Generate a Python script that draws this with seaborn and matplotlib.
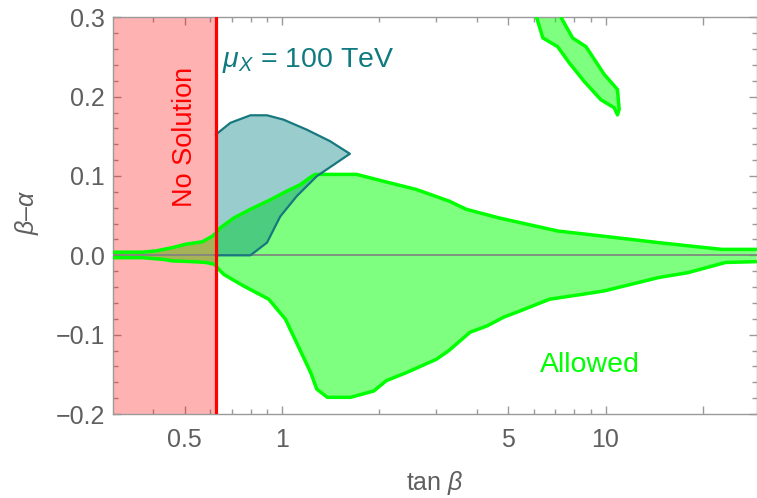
import numpy as np
import pandas as pd
import matplotlib
matplotlib.use("Agg")
import matplotlib.pyplot as plt
import seaborn as sns

# ---------------- data ----------------
upper_x = [0.30, 0.37, 0.407, 0.458, 0.503, 0.566, 0.608, 0.623, 0.645, 0.709, 0.798, 0.827,
           0.92, 1.035, 1.138, 1.22, 1.266, 1.70, 2.05, 2.60, 3.30, 3.71, 4.70, 7.13, 9.9,
           14.6, 18.0, 22.9, 29.3]
upper_y = [0.004, 0.004, 0.0055, 0.0097, 0.014, 0.017, 0.024, 0.028, 0.0348, 0.047, 0.058, 0.061,
           0.070, 0.081, 0.089, 0.098, 0.102, 0.102, 0.0935, 0.083, 0.068, 0.058, 0.047, 0.0306, 0.024,
           0.016, 0.012, 0.0075, 0.0075]

lower_x = [0.30, 0.37, 0.426, 0.458, 0.528, 0.58, 0.614, 0.623, 0.637, 0.66, 0.76, 0.909, 1.024,
           1.12, 1.225, 1.28, 1.38, 1.627, 1.92, 2.10, 2.43, 3.0, 3.28, 3.81, 4.30, 4.84, 5.45,
           6.14, 6.72, 8.53, 9.9, 14.6, 18.0, 23.5, 29.3]
lower_y = [-0.003, -0.003, -0.005, -0.007, -0.008, -0.009, -0.011, -0.013, -0.0176, -0.024, -0.0386,
           -0.0553, -0.0805, -0.114, -0.1476, -0.1686, -0.179, -0.179, -0.171, -0.158, -0.1476, -0.131,
           -0.120, -0.097, -0.089, -0.078, -0.070, -0.0616, -0.0553, -0.049, -0.0449, -0.028, -0.0218,
           -0.009, -0.008]

teal_x = [0.623, 0.692, 0.798, 0.898, 1.01, 1.19, 1.408, 1.62, 1.28, 1.11, 0.987, 0.898, 0.798, 0.623]
teal_y = [0.152, 0.167, 0.1765, 0.1765, 0.171, 0.1585, 0.1438, 0.128, 0.0997, 0.0746, 0.049, 0.016, 0.0, 0.0]

blob_x = [6.07, 6.40, 7.11, 7.73, 8.60, 9.68, 10.64, 10.89, 11.02, 10.89, 9.91, 8.70, 7.91, 7.17]
blob_y = [0.305, 0.274, 0.263, 0.2424, 0.219, 0.196, 0.186, 0.177, 0.184, 0.209, 0.228, 0.263, 0.274, 0.305]

no_solution_x = 0.623
x_major = [0.5, 1, 5, 10, 20]
x_major_labels = ["0.5", "1", "5", "10", ""]
x_minor = [0.4, 0.6, 0.7, 0.8, 0.9, 2, 3, 4, 6, 7, 8, 9]
y_major = [-0.2, -0.1, 0.0, 0.1, 0.2, 0.3]
y_major_labels = ["\u22120.2", "\u22120.1", "0.0", "0.1", "0.2", "0.3"]
y_minor = [-0.18, -0.16, -0.14, -0.12, -0.08, -0.06, -0.04, -0.02,
           0.02, 0.04, 0.06, 0.08, 0.12, 0.14, 0.16, 0.18, 0.22, 0.24, 0.26, 0.28]

# ---------------- style ----------------
sns.set_theme(style="ticks")
plt.rcParams["font.family"] = ["Liberation Sans", "DejaVu Sans"]
plt.rcParams["mathtext.fontset"] = "custom"
plt.rcParams["mathtext.rm"] = "Liberation Sans"
plt.rcParams["mathtext.it"] = "Liberation Sans:italic"

FRAME = "#9a9a9a"
LABEL = "#5f5f5f"
GREEN = "#00ff00"
TEAL_EDGE = "#17787f"
TEAL_TEXT = "#0f7a80"

fig = plt.figure(figsize=(7.57, 4.98), dpi=100)
ax = fig.add_axes([113 / 757, 84 / 498, 643.5 / 757, 396.7 / 498])
ax.set_xscale("log")
ax.set_xlim(0.3, 29.3)
ax.set_ylim(-0.2, 0.3)

# green allowed region
poly_x = upper_x + lower_x[::-1]
poly_y = upper_y + lower_y[::-1]
ax.fill(poly_x, poly_y, color=GREEN, alpha=0.5, lw=0, zorder=1)
ax.fill(blob_x, blob_y, color=GREEN, alpha=0.5, lw=0, zorder=1)

# no-solution region
ax.axvspan(0.3, no_solution_x, color="red", alpha=0.3, lw=0, zorder=2)

# teal region fill
ax.fill(teal_x, teal_y, color=(0, 0.5, 0.5), alpha=0.4, lw=0, zorder=2.5)

# zero line
ax.axhline(0, color="#808080", lw=1.2, zorder=2.8)

# green boundaries via seaborn
df_u = pd.DataFrame({"x": upper_x, "y": upper_y})
df_l = pd.DataFrame({"x": lower_x, "y": lower_y})
df_b = pd.DataFrame({"x": blob_x + blob_x[:1], "y": blob_y + blob_y[:1]})
for d in (df_u, df_l, df_b):
    sns.lineplot(data=d, x="x", y="y", sort=False, estimator=None, color=GREEN,
                 lw=2.5, ax=ax, zorder=3)

# teal outline
df_t = pd.DataFrame({"x": teal_x, "y": teal_y})
sns.lineplot(data=df_t, x="x", y="y", sort=False, estimator=None, color=TEAL_EDGE,
             lw=1.6, ax=ax, zorder=4)

# red boundary line
ax.axvline(no_solution_x, color="red", lw=2.3, zorder=5)

# texts
ax.text(0.5, 0.149, "No Solution", rotation=90, color="red", fontsize=19.5,
        ha="center", va="center", zorder=6)
ax.text(0.654, 0.246, r"$\mu_X$ = 100 TeV", color=TEAL_TEXT, fontsize=20.5,
        ha="left", va="center", zorder=6)
ax.text(8.97, -0.1385, "Allowed", color=GREEN, fontsize=20.5,
        ha="center", va="center", zorder=6)

# ticks
ax.set_xticks(x_major)
ax.set_xticklabels(x_major_labels)
ax.set_xticks(x_minor, minor=True)
ax.set_xticklabels([], minor=True)
ax.set_yticks(y_major)
ax.set_yticklabels(y_major_labels)
ax.set_yticks(y_minor, minor=True)
ax.tick_params(which="both", direction="in", top=True, right=True, color=FRAME,
               labelcolor=LABEL, labelsize=18, width=1.0)
ax.tick_params(axis="x", which="major", length=6, pad=10)
ax.tick_params(axis="y", which="major", length=6, pad=6)
ax.tick_params(which="minor", length=3.5)
for s in ax.spines.values():
    s.set_color(FRAME)
    s.set_linewidth(1.0)

ax.set_xlabel(r"tan $\beta$", color=LABEL, fontsize=18)
ax.set_ylabel(r"$\beta$" + "\u2013" + r"$\alpha$", color=LABEL, fontsize=18)
ax.xaxis.set_label_coords(0.5, (414 - 483) / 396.7)
ax.xaxis.label.set_va("center")
ax.yaxis.set_label_coords((27 - 113) / 643.5, (414 - 212) / 396.7)
ax.yaxis.label.set_va("center")

fig.savefig("out.png", dpi=100)
